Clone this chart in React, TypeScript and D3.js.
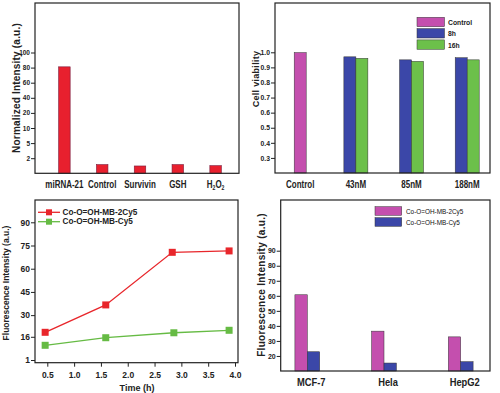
import React, { useEffect, useRef } from "react";
import * as d3 from "d3";

// (a) selectivity
const selCategories = ["miRNA-21", "Control", "Survivin", "GSH", "H2O2"];
const selValues = [81, 1.15, 0.97, 1.15, 1.01];
const selTicks = [0, 2, 5, 10, 20, 40, 60, 80, 100];

// (b) cell viability
const viaCategories = ["Control", "43nM", "85nM", "188nM"];
const viaSeries = ["Control", "8h", "16h"];
const viaControl = [0.998, null, null, null];
const via8h = [null, 0.97, 0.95, 0.964];
const via16h = [null, 0.96, 0.94, 0.95];
const viaTicks = [0.3, 0.4, 0.5, 0.6, 0.7, 0.8, 0.9, 1.0];

// (c) fluorescence vs time
const timeRed = [0.46, 1.59, 2.83, 3.89];
const timeGreen = [0.46, 1.59, 2.86, 3.89];
const fluo2Cy5 = [18.9, 36.6, 70.6, 71.5];
const fluoCy5 = [10.5, 15.4, 18.6, 20.2];
const timeTicks = [0.5, 1.0, 1.5, 2.0, 2.5, 3.0, 3.5, 4.0];
const fluoTicks = [1, 16, 30, 45, 60, 75, 90];
const lineNames = ["Co-O=OH-MB-2Cy5", "Co-O=OH-MB-Cy5"];

// (d) cell lines
const cellLines = ["MCF-7", "Hela", "HepG2"];
const cell2Cy5 = [60.7, 36.5, 32.7];
const cellCy5 = [22.8, 15.3, 16.2];
const cellTicks = [20, 30, 40, 50, 60, 70, 80, 90];

const SANS = "'Liberation Sans', Arial, sans-serif";

const RED = "#e8202e";
const MAGENTA = "#c44fae";
const BLUE = "#3b47a8";
const GREEN = "#6cc04a";
const LRED = "#e8262b";
const LGREEN = "#66bb44";

type Sel = d3.Selection<SVGGElement, unknown, null, undefined>;

const frame = (g: Sel, x0: number, x1: number, y0: number, y1: number) => {
  g.append("rect")
    .attr("x", x0)
    .attr("y", y0)
    .attr("width", x1 - x0)
    .attr("height", y1 - y0)
    .attr("fill", "none")
    .attr("stroke", "#222")
    .attr("stroke-width", 1.2);
};

const yAxis = (g: Sel, x0: number, scale: any, ticks: number[], fmt: (d: any) => string, size: number) => {
  const ax = g
    .append("g")
    .attr("transform", `translate(${x0},0)`)
    .call(d3.axisLeft(scale).tickValues(ticks).tickSize(4).tickPadding(1).tickFormat(fmt as any));
  ax.select(".domain").remove();
  ax.selectAll("line").attr("stroke", "#222").attr("stroke-width", 1);
  ax.selectAll("text")
    .attr("fill", "#222")
    .style("font-family", SANS)
    .style("font-size", size + "px")
    .style("font-weight", "bold");
  return ax;
};

// text squeezed horizontally, like the narrow face in the figure
const narrow = (g: Sel, x: number, y: number, size: number, bold: boolean, squeeze = 0.8, anchor = "middle") =>
  g
    .append("text")
    .attr("transform", `translate(${x},${y}) scale(${squeeze},1)`)
    .attr("text-anchor", anchor)
    .style("font-family", SANS)
    .style("font-size", size + "px")
    .style("font-weight", bold ? "bold" : "normal")
    .attr("fill", "#222");

const yLabel = (g: Sel, cx: number, cy: number, text: string, size: number, spacing: number) => {
  g.append("text")
    .attr("transform", `translate(${cx},${cy}) rotate(-90)`)
    .attr("text-anchor", "middle")
    .attr("dominant-baseline", "central")
    .style("font-family", SANS)
    .style("font-size", size + "px")
    .style("font-weight", "bold")
    .style("letter-spacing", spacing + "px")
    .attr("fill", "#222")
    .text(text);
};

const App = () => {
  const svgRef = useRef<SVGSVGElement | null>(null);

  useEffect(() => {
    const svg = d3.select(svgRef.current);
    svg.selectAll("*").remove();
    const root = svg.append("g") as unknown as Sel;

    // ---------- (a) ----------
    {
      const g = root.append("g");
      const left = 35, right = 239, top = 3, bottom = 173.3;
      const y = d3.scaleLinear().domain(selTicks).range(selTicks.map((_, i) => bottom - i * 15.1));
      const x = d3.scalePoint().domain(selCategories).range([64.4, 215.6]);
      const bw = 11.5;
      g.selectAll("rect.bar")
        .data(selCategories)
        .enter()
        .append("rect")
        .attr("x", (d) => (x(d) as number) - bw / 2)
        .attr("y", (d, i) => y(selValues[i]))
        .attr("width", bw)
        .attr("height", (d, i) => bottom - y(selValues[i]))
        .attr("fill", RED)
        .attr("stroke", "#7a1a3a")
        .attr("stroke-width", 0.6);
      frame(g, left, right, top, bottom);
      yAxis(g, left, y, selTicks.slice(1), (d) => String(d), 6.5);
      selCategories.forEach((d) => {
        const t = narrow(g, x(d) as number, 187.5, 10, true);
        if (d === "H2O2") {
          t.append("tspan").text("H");
          t.append("tspan").text("2").style("font-size", "6.5px").attr("dy", 2);
          t.append("tspan").text("O").attr("dy", -2);
          t.append("tspan").text("2").style("font-size", "6.5px").attr("dy", 2);
        } else {
          t.text(d);
        }
      });
      yLabel(g, 16, 88, "Normalized Intensity (a.u.)", 10, 0.2);
    }

    // ---------- (b) ----------
    {
      const g = root.append("g");
      const left = 275, right = 490, top = 3, bottom = 173;
      const y = d3.scaleLinear().domain([0.2, 1.0]).range([bottom, 52.3]);
      const x = d3.scalePoint().domain(viaCategories).range([300.2, 467.2]);
      const color = d3.scaleOrdinal<string, string>().domain(viaSeries).range([MAGENTA, BLUE, GREEN]);
      const cols = [viaControl, via8h, via16h];
      const bw = 12;
      viaCategories.forEach((cat, i) => {
        const bars = viaSeries
          .map((s, j) => ({ s, v: cols[j][i] }))
          .filter((b) => b.v != null) as { s: string; v: number }[];
        const start = (x(cat) as number) - (bars.length * bw) / 2;
        g.selectAll(null)
          .data(bars)
          .enter()
          .append("rect")
          .attr("x", (b, k) => start + k * bw)
          .attr("y", (b) => y(b.v))
          .attr("width", bw)
          .attr("height", (b) => bottom - y(b.v))
          .attr("fill", (b) => color(b.s))
          .attr("stroke", "#333")
          .attr("stroke-width", 0.5);
      });
      frame(g, left, right, top, bottom);
      yAxis(g, left, y, viaTicks, (d) => d3.format(".1f")(d), 6.8);
      viaCategories.forEach((d) => {
        narrow(g, x(d) as number, 187.5, 10, true).text(d);
      });
      yLabel(g, 256, 79, "Cell viability", 9, 0.3);
      // legend
      const leg = g.append("g").attr("transform", "translate(417,17.3)") as unknown as Sel;
      viaSeries.forEach((s, i) => {
        leg.append("rect")
          .attr("x", 0)
          .attr("y", i * 11.3)
          .attr("width", 27.5)
          .attr("height", 9.4)
          .attr("fill", color(s))
          .attr("stroke", "#333")
          .attr("stroke-width", 0.5);
        narrow(leg, 31, i * 11.3 + 7.6, 8, true, 0.85, "start").text(s);
      });
    }

    // ---------- (c) ----------
    {
      const g = root.append("g");
      const left = 35, right = 238, top = 200, bottom = 362.7;
      const x = d3.scaleLinear().domain([0.5, 4.0]).range([47.3, 235]);
      const y = d3.scaleLinear().domain([1, 90]).range([360, 222.3]);
      const series = [
        { name: lineNames[0], t: timeRed, v: fluo2Cy5, c: LRED },
        { name: lineNames[1], t: timeGreen, v: fluoCy5, c: LGREEN },
      ];
      const line = d3
        .line<[number, number]>()
        .x((d) => x(d[0]))
        .y((d) => y(d[1]));
      series.forEach((s) => {
        const pts = s.t.map((t, i) => [t, s.v[i]] as [number, number]);
        g.append("path").attr("d", line(pts)).attr("fill", "none").attr("stroke", s.c).attr("stroke-width", 1.3);
        g.selectAll(null)
          .data(pts)
          .enter()
          .append("rect")
          .attr("x", (d) => x(d[0]) - 3.5)
          .attr("y", (d) => y(d[1]) - 3.5)
          .attr("width", 7)
          .attr("height", 7)
          .attr("fill", s.c);
      });
      frame(g, left, right, top, bottom);
      yAxis(g, left, y, fluoTicks, (d) => String(d), 8.5);
      const xa = g
        .append("g")
        .attr("transform", `translate(0,${bottom})`)
        .call(d3.axisBottom(x).tickValues(timeTicks).tickSize(4).tickPadding(5).tickFormat((d) => d3.format(".1f")(d as number)));
      xa.select(".domain").remove();
      xa.selectAll("line").attr("stroke", "#222");
      xa.selectAll("text")
        .attr("fill", "#222")
        .style("font-family", SANS)
        .style("font-size", "8.5px")
        .style("font-weight", "bold");
      g.append("text")
        .attr("x", 137)
        .attr("y", 391)
        .attr("text-anchor", "middle")
        .style("font-family", SANS)
        .style("font-size", "9px")
        .style("font-weight", "bold")
        .attr("fill", "#222")
        .text("Time (h)");
      yLabel(g, 6, 283, "Fluorescence Intensity (a.u.)", 8.5, 0);
      // legend
      series.forEach((s, i) => {
        const ly = 212.3 + i * 9.4;
        g.append("line").attr("x1", 38).attr("x2", 60).attr("y1", ly).attr("y2", ly).attr("stroke", s.c).attr("stroke-width", 1.3);
        g.append("rect").attr("x", 46).attr("y", ly - 3).attr("width", 6).attr("height", 6).attr("fill", s.c);
        g.append("text")
          .attr("x", 62.5)
          .attr("y", ly)
          .attr("dominant-baseline", "central")
          .style("font-family", SANS)
          .style("font-size", "8.2px")
          .style("font-weight", "bold")
          .attr("fill", "#222")
          .text(s.name);
      });
    }

    // ---------- (d) ----------
    {
      const g = root.append("g");
      const left = 280.7, right = 490, top = 200, bottom = 371;
      const y = d3.scaleLinear().domain([10, 90]).range([bottom, 250.7]);
      const x = d3.scalePoint().domain(cellLines).range([307.3, 460.7]);
      const bw = 12.4;
      const sets = [
        { v: cell2Cy5, c: MAGENTA, off: -bw },
        { v: cellCy5, c: BLUE, off: 0 },
      ];
      sets.forEach((s) => {
        g.selectAll(null)
          .data(cellLines)
          .enter()
          .append("rect")
          .attr("x", (d) => (x(d) as number) + s.off)
          .attr("y", (d, i) => y(s.v[i]))
          .attr("width", bw)
          .attr("height", (d, i) => bottom - y(s.v[i]))
          .attr("fill", s.c)
          .attr("stroke", "#333")
          .attr("stroke-width", 0.5);
      });
      frame(g, left, right, top, bottom);
      yAxis(g, left, y, cellTicks, (d) => String(d), 7);
      cellLines.forEach((d) => {
        narrow(g, (x(d) as number) + 4, 386, 11, true, 0.85).text(d);
      });
      yLabel(g, 261, 285, "Fluorescence Intensity (a.u.)", 10, 0.3);
      const leg = g.append("g").attr("transform", "translate(375,206.7)") as unknown as Sel;
      [MAGENTA, BLUE].forEach((c, i) => {
        leg.append("rect")
          .attr("x", 0)
          .attr("y", i * 11)
          .attr("width", 26.7)
          .attr("height", 8.6)
          .attr("fill", c)
          .attr("stroke", "#333")
          .attr("stroke-width", 0.5);
        narrow(leg, 31, i * 11 + 7, 8, false, 0.8, "start").attr("fill", "#111").text(lineNames[i]);
      });
    }
  }, []);

  return (
    <svg
      ref={svgRef}
      width={500}
      height={393}
      style={{ position: "absolute", left: 0, top: 0, background: "#fff" }}
    />
  );
};

export default App;
